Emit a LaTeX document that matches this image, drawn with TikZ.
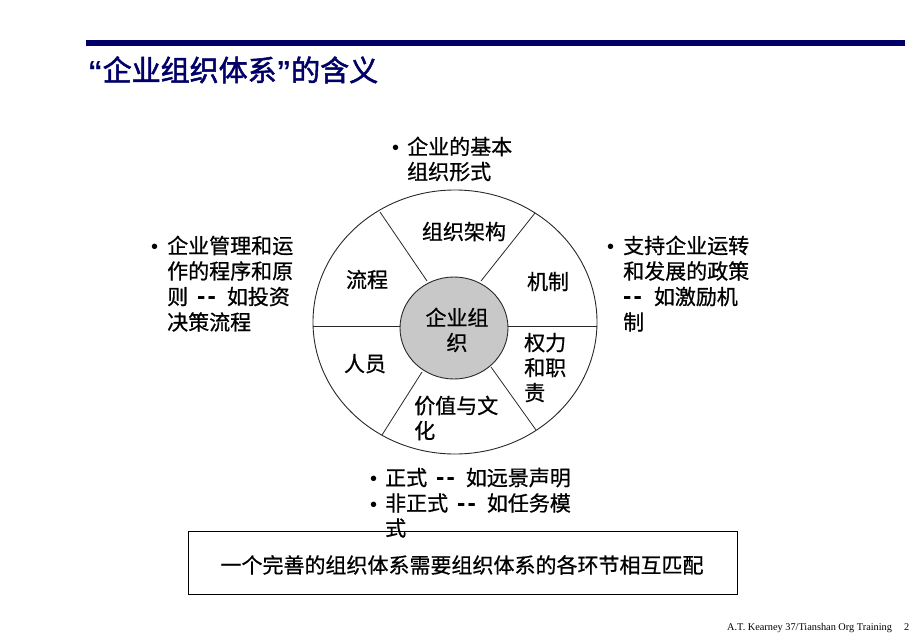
\documentclass[tikz,border=0pt]{standalone}
\usepackage{fontspec}
\setmainfont{Liberation Sans}
\newfontfamily\cjk[AutoFakeBold=0.7]{Noto Sans CJK SC}
\newfontfamily\cjktitle[AutoFakeBold=1.8]{Noto Sans CJK SC}
\newfontfamily\lat{Liberation Sans}
\newfontfamily\footfont{Liberation Serif}
\newcommand{\hy}{{\lat\bfseries\fontsize{25}{25}\selectfont -}}
\newcommand{\dd}{\hspace{9pt}\hy\hspace{2pt}\hy\hspace{11pt}}
\definecolor{navy}{RGB}{0,0,104}
\definecolor{innerfill}{RGB}{200,200,200}
\definecolor{linegray}{RGB}{40,40,40}
\tikzset{
  txt/.style={anchor=base west, inner sep=0pt, font=\cjk\bfseries\fontsize{21}{25}\selectfont},
  ctxt/.style={anchor=base, inner sep=0pt, font=\cjk\bfseries\fontsize{21}{25}\selectfont},
  bul/.style={anchor=base west, inner sep=0pt, font=\lat\fontsize{20}{25}\selectfont},
  divider/.style={draw=linegray, line width=0.8pt},
}
\begin{document}
\begin{tikzpicture}[x=1pt,y=-1pt]
\useasboundingbox (0,0) rectangle (920,637);
\fill[white] (0,0) rectangle (920,637);
% top bar and title
\fill[navy] (86,40) rectangle (905,46);
\node[anchor=base west, inner sep=0pt, text=navy, font=\cjktitle\bfseries\fontsize{29}{32}\selectfont] (title) at (88,81) {{\lat\bfseries “}企业组织体系{\lat\bfseries ”}的含义};
% wheel
\coordinate (wc) at (455,322);
\coordinate (ic) at (454,328);
\draw[divider] (313,326) -- (400,326);
\draw[divider] (507,326) -- (597,326);
\draw[divider] (380,212) -- (427,281);
\draw[divider] (535,213) -- (481,281);
\draw[divider] (382,435) -- (422,372);
\draw[divider] (536,430) -- (491,367);
\draw[linegray, line width=0.9pt] (wc) ellipse [x radius=142pt, y radius=132pt];
\draw[linegray, line width=0.9pt, fill=innerfill] (ic) ellipse [x radius=54pt, y radius=51pt];
% center text
\node[ctxt] (c1) at (457,325.5) {企业组};
\node[ctxt] (c2) at (457,350.5) {织};
% segment labels
\node[ctxt] (s1) at (464,239.5) {组织架构};
\node[ctxt] (s2) at (367,287.5) {流程};
\node[ctxt] (s3) at (548,289.5) {机制};
\node[ctxt] (s4) at (365,371.5) {人员};
\node[txt] (s5a) at (524,350.5) {权力};
\node[txt] (s5b) at (524,375.5) {和职};
\node[txt] (s5c) at (524,400.5) {责};
\node[txt] (s6a) at (414,413.5) {价值与文};
\node[txt] (s6b) at (414,438.5) {化};
% top annotation
\node[bul] (tb) at (392,154.5) {•};
\node[txt] (t1) at (407,154.5) {企业的基本};
\node[txt] (t2) at (407,179.5) {组织形式};
% left annotation
\node[bul] (lb) at (151,253.5) {•};
\node[txt] (l1) at (167,253.5) {企业管理和运};
\node[txt] (l2) at (167,279) {作的程序和原};
\node[txt] (l3) at (167,304.5) {则\dd 如投资};
\node[txt] (l4) at (167,330) {决策流程};
% right annotation
\node[bul] (rb) at (607,253.5) {•};
\node[txt] (r1) at (623,253.5) {支持企业运转};
\node[txt] (r2) at (623,279) {和发展的政策};
\node[txt] (r3) at (623,304.5) {\hy\hspace{2pt}\hy\hspace{12pt}如激励机};
\node[txt] (r4) at (623,330) {制};
% bottom annotation
\node[bul] (bb1) at (370,485.5) {•};
\node[txt] (b1) at (385,485.5) {正式\dd 如远景声明};
\node[bul] (bb2) at (370,511) {•};
\node[txt] (b2) at (385,511) {非正式\dd 如任务模};
\node[txt] (b3) at (385,536) {式};
% bottom box
\draw[black, line width=0.9pt] (188,531) rectangle (737,594);
\node[ctxt] (boxtext) at (462,573) {一个完善的组织体系需要组织体系的各环节相互匹配};
% footer
\node[anchor=base west, inner sep=0pt, font=\footfont\fontsize{10.3}{12}\selectfont] (foot) at (727,630) {A.T. Kearney 37/Tianshan Org Training};
\node[anchor=base west, inner sep=0pt, font=\footfont\fontsize{10.3}{12}\selectfont] (page) at (904,630) {2};
\end{tikzpicture}
\end{document}
